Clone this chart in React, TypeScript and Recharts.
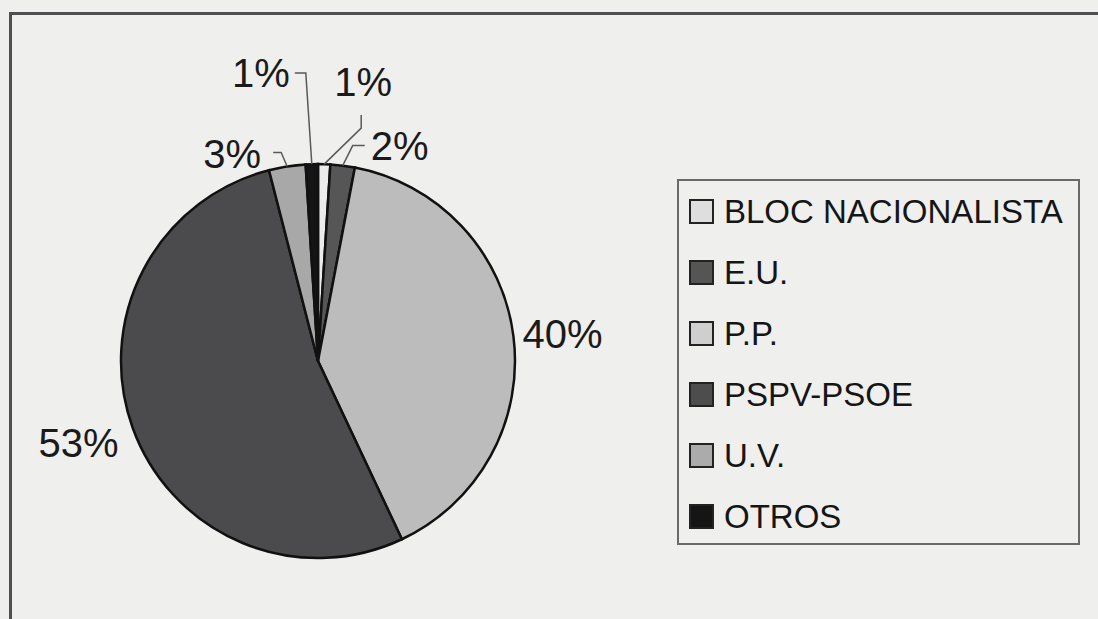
import React from 'react';
import { PieChart, Pie, Cell, Legend } from 'recharts';

// vote share per party (percent)
const PARTIES = ['BLOC NACIONALISTA', 'E.U.', 'P.P.', 'PSPV-PSOE', 'U.V.', 'OTROS'];
const SHARES = [1, 2, 40, 53, 3, 1];

const FILLS = ['#ececec', '#565656', '#bcbcbc', '#4b4b4d', '#a8a8a8', '#151515'];
const LEGEND_FILLS = ['#dedede', '#555555', '#cfcfcf', '#4d4d4d', '#ababab', '#151515'];

const FONT = '"Liberation Sans", Arial, sans-serif';
const RAD = Math.PI / 180;

// label placement relative to the point where the slice middle meets the rim
const LABEL_LAYOUT: { tx: number; ty: number; anchor: string; leader: number[][] }[] = [
  { tx: 39, ty: -82, anchor: 'middle', leader: [[37, -36], [37, -49]] },
  { tx: 28, ty: -20, anchor: 'start', leader: [[10, -20], [22, -20]] },
  { tx: 9, ty: -2, anchor: 'start', leader: [] },
  { tx: -14, ty: 15, anchor: 'end', leader: [] },
  { tx: -26, ty: -12, anchor: 'end', leader: [[-6, -14], [-14, -14]] },
  { tx: -22, ty: -91, anchor: 'end', leader: [[-6, -91], [-17, -91]] },
];

const data = PARTIES.map((name, i) => ({ name, value: SHARES[i] }));

const renderLabel = (props: any) => {
  const { cx, cy, midAngle, outerRadius, index, value } = props;
  const ex = cx + outerRadius * Math.cos(-midAngle * RAD);
  const ey = cy + outerRadius * Math.sin(-midAngle * RAD);
  const lay = LABEL_LAYOUT[index];
  const pts = [[ex, ey], ...lay.leader.map(([dx, dy]) => [ex + dx, ey + dy])];
  return (
    <g key={`lbl-${index}`}>
      {lay.leader.length > 0 && (
        <polyline
          points={pts.map((p) => p.join(',')).join(' ')}
          fill="none"
          stroke="#5a5a5a"
          strokeWidth={1.5}
        />
      )}
      <text
        x={ex + lay.tx}
        y={ey + lay.ty}
        textAnchor={lay.anchor as any}
        dominantBaseline="central"
        fontSize={40}
        fontFamily={FONT}
        fill="#1a1a1a"
      >
        {`${value}%`}
      </text>
    </g>
  );
};

const renderLegend = () => (
  <div
    style={{
      boxSizing: 'border-box',
      width: 403,
      height: 366,
      border: '2px solid #6a6a6a',
      padding: '0 0 0 10px',
      fontFamily: FONT,
    }}
  >
    {PARTIES.map((name, i) => (
      <div key={name} style={{ display: 'flex', alignItems: 'center', height: 61 }}>
        <span
          style={{
            boxSizing: 'border-box',
            width: 25,
            height: 25,
            background: LEGEND_FILLS[i],
            border: '2px solid #222',
            marginRight: 10,
          }}
        />
        <span style={{ fontSize: 33, color: '#151515', lineHeight: 1 }}>{name}</span>
      </div>
    ))}
  </div>
);

export default function App() {
  return (
    <div style={{ position: 'relative', width: 1098, height: 619, overflow: 'hidden', background: '#efefed' }}>
      <style>{`body{margin:0}`}</style>
      <div
        style={{
          position: 'absolute',
          left: 9,
          top: 12,
          width: 1200,
          height: 700,
          border: '3px solid #4f4f4f',
        }}
      />
      <div style={{ position: 'absolute', left: 0, top: 0 }}>
        <PieChart width={1098} height={619} margin={{ top: 0, right: 0, bottom: 0, left: 0 }}>
          <Pie
            data={data}
            dataKey="value"
            nameKey="name"
            cx={318}
            cy={361}
            outerRadius={197}
            startAngle={90}
            endAngle={-270}
            stroke="#111"
            strokeWidth={2.5}
            label={renderLabel}
            labelLine={false}
            isAnimationActive={false}
          >
            {data.map((d, i) => (
              <Cell key={d.name} fill={FILLS[i]} />
            ))}
          </Pie>
          <Legend
            content={renderLegend}
            wrapperStyle={{ position: 'absolute', left: 677, top: 179, width: 403, height: 366 }}
          />
        </PieChart>
      </div>
    </div>
  );
}
